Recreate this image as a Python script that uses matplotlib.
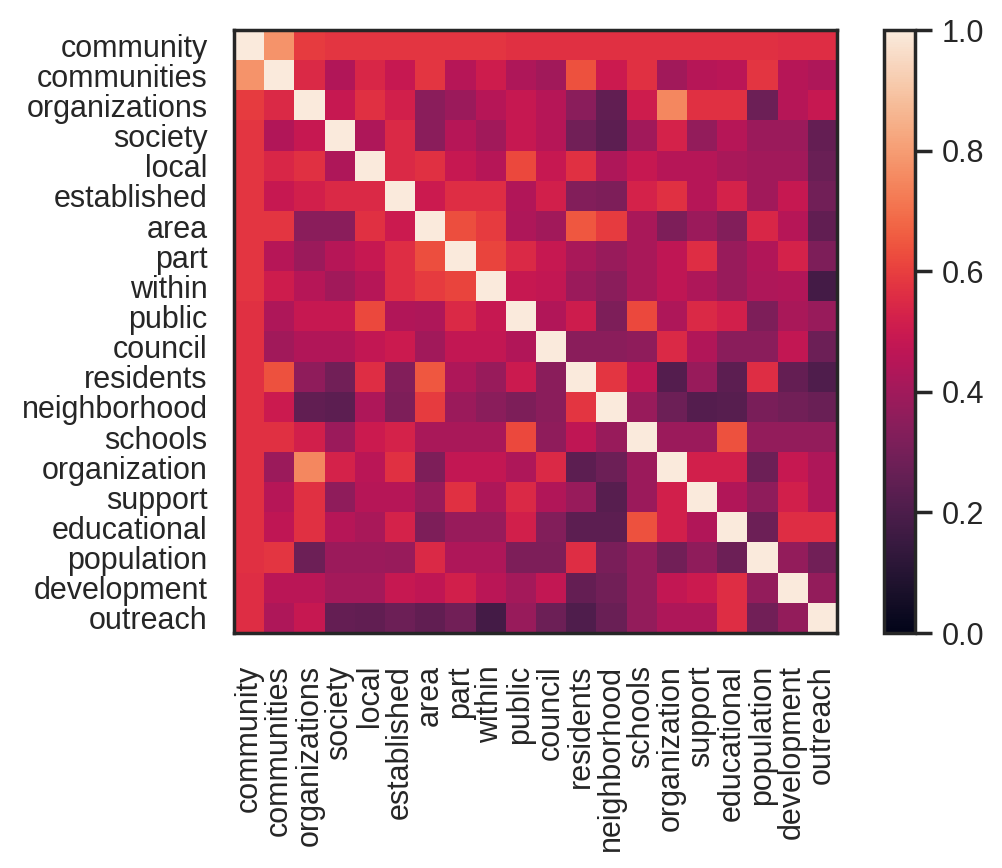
import numpy as np
import matplotlib
matplotlib.use("Agg")
from matplotlib import pyplot as plt
import seaborn as sns

sns.set_theme(style="white", context="notebook")
plt.rcParams['font.family'] = ['Liberation Sans', 'DejaVu Sans']

words = ["community", "communities", "organizations", "society", "local",
         "established", "area", "part", "within", "public", "council",
         "residents", "neighborhood", "schools", "organization", "support",
         "educational", "population", "development", "outreach"]

# similarity matrix
sim = np.array([
    [1.00, 0.78, 0.59, 0.58, 0.58, 0.58, 0.58, 0.58, 0.58, 0.57, 0.57, 0.57, 0.57, 0.57, 0.57, 0.57, 0.57, 0.57, 0.56, 0.56],
    [0.78, 1.00, 0.55, 0.44, 0.54, 0.49, 0.58, 0.45, 0.51, 0.43, 0.40, 0.64, 0.50, 0.57, 0.40, 0.45, 0.46, 0.58, 0.45, 0.43],
    [0.59, 0.55, 1.00, 0.49, 0.57, 0.52, 0.35, 0.39, 0.45, 0.49, 0.45, 0.35, 0.25, 0.51, 0.75, 0.57, 0.57, 0.28, 0.45, 0.49],
    [0.58, 0.44, 0.49, 1.00, 0.43, 0.55, 0.35, 0.45, 0.40, 0.49, 0.45, 0.29, 0.24, 0.40, 0.53, 0.37, 0.45, 0.39, 0.39, 0.26],
    [0.58, 0.54, 0.57, 0.43, 1.00, 0.55, 0.57, 0.49, 0.45, 0.62, 0.49, 0.57, 0.43, 0.49, 0.45, 0.45, 0.42, 0.40, 0.40, 0.27],
    [0.58, 0.49, 0.52, 0.55, 0.55, 1.00, 0.50, 0.56, 0.56, 0.44, 0.52, 0.33, 0.32, 0.53, 0.57, 0.45, 0.53, 0.40, 0.49, 0.29],
    [0.58, 0.58, 0.35, 0.35, 0.57, 0.50, 1.00, 0.63, 0.59, 0.43, 0.40, 0.65, 0.59, 0.42, 0.32, 0.39, 0.33, 0.54, 0.45, 0.25],
    [0.58, 0.45, 0.39, 0.45, 0.49, 0.56, 0.63, 1.00, 0.61, 0.55, 0.49, 0.42, 0.38, 0.42, 0.47, 0.56, 0.38, 0.44, 0.53, 0.32],
    [0.58, 0.51, 0.45, 0.40, 0.45, 0.56, 0.59, 0.61, 1.00, 0.49, 0.48, 0.39, 0.35, 0.42, 0.47, 0.43, 0.38, 0.43, 0.44, 0.18],
    [0.57, 0.43, 0.49, 0.49, 0.62, 0.44, 0.43, 0.55, 0.49, 1.00, 0.44, 0.51, 0.32, 0.62, 0.43, 0.55, 0.52, 0.32, 0.42, 0.38],
    [0.57, 0.40, 0.44, 0.44, 0.48, 0.50, 0.40, 0.48, 0.48, 0.44, 1.00, 0.35, 0.35, 0.36, 0.55, 0.44, 0.35, 0.35, 0.48, 0.28],
    [0.57, 0.64, 0.36, 0.29, 0.56, 0.33, 0.65, 0.43, 0.38, 0.50, 0.35, 1.00, 0.58, 0.47, 0.22, 0.38, 0.24, 0.56, 0.26, 0.21],
    [0.57, 0.50, 0.25, 0.24, 0.43, 0.32, 0.59, 0.39, 0.35, 0.32, 0.35, 0.58, 1.00, 0.38, 0.28, 0.22, 0.23, 0.31, 0.29, 0.27],
    [0.57, 0.57, 0.52, 0.39, 0.50, 0.53, 0.42, 0.42, 0.42, 0.62, 0.36, 0.47, 0.38, 1.00, 0.39, 0.39, 0.64, 0.37, 0.37, 0.37],
    [0.57, 0.39, 0.75, 0.53, 0.46, 0.57, 0.32, 0.48, 0.48, 0.43, 0.55, 0.24, 0.28, 0.39, 1.00, 0.52, 0.52, 0.28, 0.49, 0.43],
    [0.57, 0.45, 0.57, 0.36, 0.45, 0.45, 0.38, 0.57, 0.43, 0.55, 0.44, 0.38, 0.23, 0.39, 0.52, 1.00, 0.44, 0.36, 0.52, 0.43],
    [0.57, 0.47, 0.57, 0.45, 0.42, 0.53, 0.32, 0.38, 0.38, 0.52, 0.33, 0.24, 0.24, 0.64, 0.52, 0.44, 1.00, 0.28, 0.56, 0.56],
    [0.57, 0.58, 0.28, 0.39, 0.39, 0.38, 0.55, 0.43, 0.43, 0.32, 0.32, 0.56, 0.31, 0.37, 0.29, 0.36, 0.28, 1.00, 0.37, 0.29],
    [0.56, 0.46, 0.46, 0.41, 0.41, 0.49, 0.47, 0.52, 0.46, 0.41, 0.48, 0.26, 0.29, 0.37, 0.48, 0.50, 0.56, 0.37, 1.00, 0.37],
    [0.56, 0.43, 0.49, 0.26, 0.25, 0.28, 0.25, 0.29, 0.18, 0.38, 0.28, 0.21, 0.27, 0.37, 0.43, 0.43, 0.56, 0.29, 0.37, 1.00],
])

fig = plt.figure(figsize=(5.015, 4.34), dpi=200)
ax = fig.add_axes([0.2333, 0.2707, 0.6012, 0.6947])
cax = fig.add_axes([0.8814, 0.2707, 0.031, 0.6947])

im = ax.imshow(sim, cmap="rocket", vmin=0, vmax=1, aspect="auto")
ax.set_xticks(range(len(words)))
ax.set_xticklabels(words, rotation=90)
ax.set_yticks(range(len(words)))
ax.set_yticklabels(words)
ax.tick_params(axis="x", pad=5.5)
for s in ax.spines.values():
    s.set_color("#262626")

cb = fig.colorbar(im, cax=cax)
cb.outline.set_edgecolor("#262626")
cb.set_ticks([0, 0.2, 0.4, 0.6, 0.8, 1.0])

fig.savefig("out.png", dpi=200)
